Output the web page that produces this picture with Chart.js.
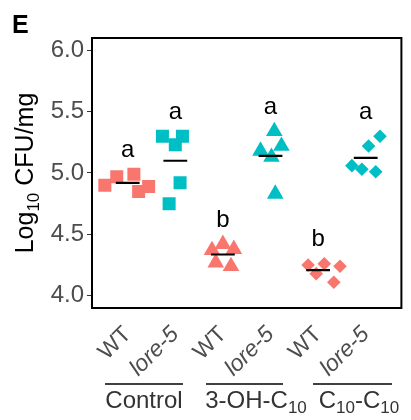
<!DOCTYPE html>
<html>
<head>
<meta charset="utf-8">
<script src="https://cdn.jsdelivr.net/npm/chart.js@4.4.1/dist/chart.umd.min.js"></script>
<style>
  html, body { margin: 0; padding: 0; background: #fff; }
  #wrap { width: 411px; height: 420px; position: relative; }
</style>
</head>
<body>
<div id="wrap"><canvas id="c" width="411" height="420"></canvas></div>
<script>
// Genotypes along the x axis, grouped by treatment
const genotypes = ['WT', 'lore-5', 'WT', 'lore-5', 'WT', 'lore-5'];
const treatments = ['Control', '3-OH-C10', 'C10-C10'];
const yTicks = [4.0, 4.5, 5.0, 5.5, 6.0];

// Log10 CFU/mg per replicate (5 plants per group)
const wtControl   = [4.90, 4.97, 4.99, 4.85, 4.89];
const loreControl = [5.30, 5.30, 5.23, 4.92, 4.75];
const wtOH        = [4.37, 4.42, 4.38, 4.27, 4.24];
const loreOH      = [5.34, 5.18, 5.22, 5.13, 4.83];
const wtC10       = [4.25, 4.26, 4.24, 4.18, 4.11];
const loreC10     = [5.30, 5.22, 5.06, 5.03, 5.01];

// horizontal jitter of each replicate within its column
const jitter = [
  [-0.48, -0.23, 0.13, 0.23, 0.44],
  [-0.27, 0.15, 0.00, 0.10, -0.13],
  [-0.23, 0.00, 0.23, -0.15, 0.17],
  [0.08, -0.21, 0.23, 0.02, 0.10],
  [-0.21, 0.13, 0.46, -0.04, 0.33],
  [0.30, 0.06, -0.29, -0.08, 0.21]
];

// significance letters
const sigLetters = ['a', 'a', 'b', 'a', 'b', 'a'];

const groups = [wtControl, loreControl, wtOH, loreOH, wtC10, loreC10];
const shapes = ['rect', 'rect', 'triangle', 'triangle', 'rectRot', 'rectRot'];
const radii  = [9.2, 9.2, 9.6, 9.6, 6.8, 6.8];
const colors = ['#F8766D', '#00BFC4'];

const mean = a => a.reduce((s, v) => s + v, 0) / a.length;

const datasets = [];
groups.forEach((vals, i) => {
  const c = colors[i % 2];
  datasets.push({
    type: 'scatter',
    data: vals.map((v, j) => ({ x: i + 1 + jitter[i][j], y: v })),
    pointStyle: shapes[i],
    pointRadius: radii[i],
    pointHoverRadius: radii[i],
    backgroundColor: c,
    borderColor: c,
    borderWidth: 0,
    order: 2
  });
});
groups.forEach((vals, i) => {
  const m = mean(vals);
  datasets.push({
    type: 'line',
    data: [{ x: i + 1 - 0.25, y: m }, { x: i + 1 + 0.25, y: m }],
    borderColor: '#000',
    borderWidth: 2.2,
    pointRadius: 0,
    order: 1
  });
});

const FONT = '"Liberation Sans", Arial, sans-serif';

const decorations = {
  id: 'decorations',
  afterDatasetsDraw(chart) {
    const { ctx, scales: { x, y } } = chart;
    ctx.save();
    // significance letters above each column
    ctx.fillStyle = '#000';
    ctx.font = '24px ' + FONT;
    ctx.textAlign = 'center';
    ctx.textBaseline = 'middle';
    groups.forEach((vals, i) => {
      const top = Math.max(...vals);
      ctx.fillText(sigLetters[i], x.getPixelForValue(i + 1), y.getPixelForValue(top + 0.18) - 2);
    });
    ctx.restore();
  },
  afterDraw(chart) {
    const { ctx, chartArea: a } = chart;
    ctx.save();
    // panel border
    ctx.strokeStyle = '#000';
    ctx.lineWidth = 2;
    ctx.strokeRect(a.left, a.top, a.right - a.left, a.bottom - a.top);

    // panel tag
    ctx.fillStyle = '#000';
    ctx.font = 'bold 25px ' + FONT;
    ctx.textAlign = 'left';
    ctx.textBaseline = 'alphabetic';
    ctx.fillText('E', 12, 33);

    // y axis title with subscript
    ctx.save();
    ctx.translate(33, (a.top + a.bottom) / 2);
    ctx.rotate(-Math.PI / 2);
    const big = '25px ' + FONT, small = '17px ' + FONT;
    ctx.font = big; const w1 = ctx.measureText('Log').width;
    ctx.font = small; const w2 = ctx.measureText('10').width;
    ctx.font = big; const w3 = ctx.measureText(' CFU/mg').width;
    let sx = -(w1 + w2 + w3) / 2;
    ctx.font = big; ctx.fillText('Log', sx, 0); sx += w1;
    ctx.font = small; ctx.fillText('10', sx, 6); sx += w2;
    ctx.font = big; ctx.fillText(' CFU/mg', sx, 0);
    ctx.restore();

    // treatment brackets and labels
    const lineY = 384, textY = 408;
    const lineSpan = [[105, 183], [206, 283], [313, 392]];
    ctx.strokeStyle = '#000';
    ctx.lineWidth = 1.5;
    ctx.fillStyle = '#333';
    const labelParts = [
      [['Control', 0]],
      [['3-OH-C', 0], ['10', 1]],
      [['C', 0], ['10', 1], ['-C', 0], ['10', 1]]
    ];
    const labelCenter = [144, 256, 359];
    labelParts.forEach((parts, k) => {
      ctx.beginPath();
      ctx.moveTo(lineSpan[k][0], lineY);
      ctx.lineTo(lineSpan[k][1], lineY);
      ctx.stroke();
      let tw = 0;
      parts.forEach(([t, sub]) => { ctx.font = (sub ? '17px ' : '24px ') + FONT; tw += ctx.measureText(t).width; });
      let px = labelCenter[k] - tw / 2;
      parts.forEach(([t, sub]) => {
        ctx.font = (sub ? '17px ' : '24px ') + FONT;
        ctx.fillText(t, px, textY + (sub ? 5 : 0));
        px += ctx.measureText(t).width;
      });
    });
    ctx.restore();
  }
};

new Chart(document.getElementById('c'), {
  data: { datasets },
  options: {
    responsive: false,
    animation: false,
    events: [],
    layout: { padding: { left: 0, top: 38, right: 8, bottom: 0 } },
    plugins: { legend: { display: false }, tooltip: { enabled: false } },
    scales: {
      x: {
        type: 'linear',
        min: 0.25,
        max: 6.75,
        afterBuildTicks: s => { s.ticks = genotypes.map((g, i) => ({ value: i + 1 })); },
        afterFit: s => { s.height = 112; },
        grid: { display: false },
        border: { display: false },
        ticks: {
          autoSkip: false,
          minRotation: 45,
          maxRotation: 45,
          padding: 5,
          color: '#4D4D4D',
          callback: (v) => genotypes[Math.round(v) - 1],
          font: (ctx) => ({ family: FONT, size: 23, style: (ctx.index % 2) ? 'italic' : 'normal' })
        }
      },
      y: {
        type: 'linear',
        min: 3.9,
        max: 6.1,
        afterBuildTicks: s => { s.ticks = yTicks.map(v => ({ value: v })); },
        afterFit: s => { s.width = 92; },
        grid: { display: true, drawOnChartArea: false, tickLength: 5, color: '#333', lineWidth: 1 },
        border: { display: false },
        ticks: {
          padding: 3,
          color: '#4D4D4D',
          font: { family: FONT, size: 24 },
          callback: v => v.toFixed(1)
        }
      }
    }
  },
  plugins: [decorations]
});
</script>
</body>
</html>
